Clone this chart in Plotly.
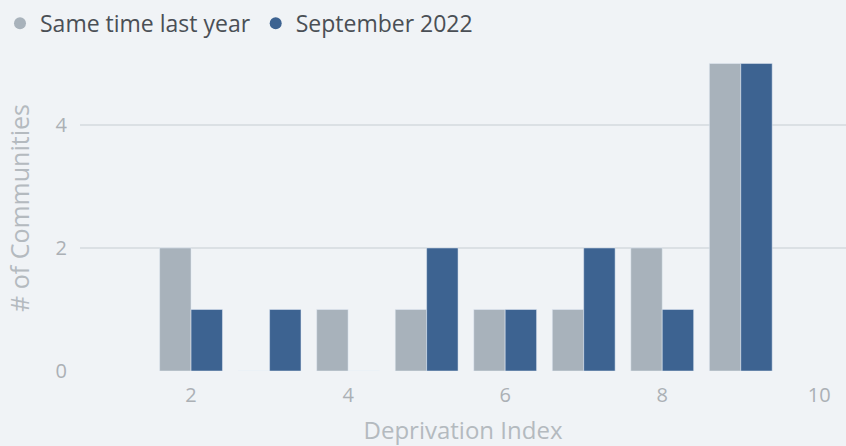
import plotly.graph_objects as go

categories = [2, 3, 4, 5, 6, 7, 8, 9]
last_year = [2, 0, 1, 1, 1, 1, 2, 5]
sept_2022 = [1, 1, 0, 2, 1, 2, 1, 5]
series_names = ["Same time last year", "September 2022"]
colors = ["#a8b2bb", "#3d6391"]
x_ticks = [2, 4, 6, 8, 10]
y_ticks = [0, 2, 4]

fig = go.Figure()
for name, vals, col in zip(series_names, [last_year, sept_2022], colors):
    fig.add_trace(go.Bar(x=categories, y=vals, name=name, marker_color=col,
                         showlegend=False))
    fig.add_trace(go.Scatter(x=[None], y=[None], mode="markers", name=name,
                             marker=dict(color=col, size=12, symbol="circle")))

fig.update_layout(
    width=846, height=446,
    paper_bgcolor="#f0f3f6", plot_bgcolor="#f0f3f6",
    margin=dict(l=80, r=0, t=45, b=75, autoexpand=False),
    barmode="group", bargap=0.2, bargroupgap=0,
    font=dict(family="Open Sans, Noto Sans, sans-serif"),
    legend=dict(orientation="h", x=0, xref="container", xanchor="left",
                y=0.948, yref="container", yanchor="middle",
                font=dict(size=23, color="#4a4f55"), itemwidth=30,
                bgcolor="rgba(0,0,0,0)"),
    xaxis=dict(range=[0.586, 10.34], tickvals=x_ticks, showgrid=False, zeroline=False,
               tickfont=dict(size=20, color="#abb0b5"), ticks="", ticklabelstandoff=10,
               automargin=False,
               title=dict(text="Deprivation Index", font=dict(size=24, color="#b4babf"), standoff=18)),
    yaxis=dict(range=[0, 5.3], tickvals=y_ticks, showgrid=True, gridcolor="#dbe0e4",
               gridwidth=1.5, zeroline=False, automargin=False,
               tickfont=dict(size=20, color="#abb0b5"), ticks="", ticklabelstandoff=12,
               title=dict(text="# of Communities", font=dict(size=25, color="#b4babf"), standoff=18)),
)

fig.write_html("out.html")
